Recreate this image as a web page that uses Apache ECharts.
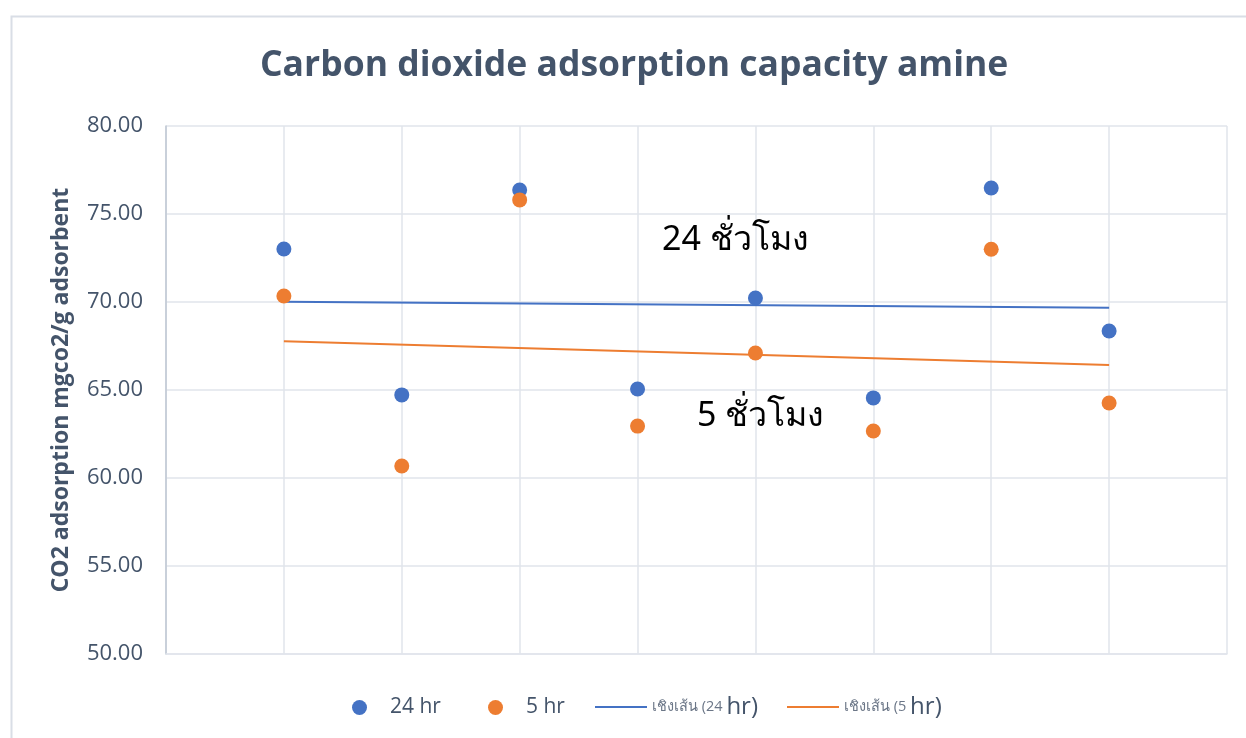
<!DOCTYPE html>
<html>
<head>
<meta charset="utf-8">
<script src="https://cdn.jsdelivr.net/npm/echarts@6/dist/echarts.min.js"></script>
<style>html,body{margin:0;padding:0;background:#fff}#c{width:1246px;height:738px}</style>
</head>
<body>
<div id="c"></div>
<script>
const xPositions = [1, 2, 3, 4, 5, 6, 7, 8];
const values24hr = [73.01, 64.72, 76.36, 65.06, 70.23, 64.55, 76.48, 68.35];
const values5hr = [70.34, 60.68, 75.80, 62.95, 67.10, 62.67, 73.00, 64.26];
const seriesNames = ['24 hr', '5 hr', 'เชิงเส้น (24 hr)', 'เชิงเส้น (5 hr)'];
const titleText = 'Carbon dioxide adsorption capacity amine';
const yAxisTitle = 'CO2 adsorption mgco2/g adsorbent';
const annotations = ['24 ชั่วโมง', '5 ชั่วโมง'];

function linearTrend(xs, ys) {
  const n = xs.length;
  const mx = xs.reduce((a, b) => a + b, 0) / n;
  const my = ys.reduce((a, b) => a + b, 0) / n;
  let sxy = 0, sxx = 0;
  for (let i = 0; i < n; i++) { sxy += (xs[i] - mx) * (ys[i] - my); sxx += (xs[i] - mx) ** 2; }
  const b = sxy / sxx, a = my - b * mx;
  const x0 = xs[0], x1 = xs[n - 1];
  return [[x0, a + b * x0], [x1, a + b * x1]];
}

const BLUE = '#4472C4', ORANGE = '#ED7D31', SLATE = '#44546A', GRID = '#E1E5EB';
const FONT = '"Open Sans", "Noto Sans", sans-serif';

const dotLegend = (name, left) => ({
  data: [name], left: left, top: 692, icon: 'circle',
  itemWidth: 15, itemHeight: 15,
  textStyle: { fontFamily: FONT, fontSize: 21, color: SLATE, padding: [0, 0, 0, 18] }
});
const lineLegend = (name, left) => ({
  data: [name], left: left, top: 690, icon: 'rect',
  itemWidth: 52, itemHeight: 2,
  formatter: n => { const m = n.match(/^(.*?)(hr\))$/); return '{s|' + m[1] + '}{b|' + m[2] + '}'; },
  textStyle: {
    fontFamily: FONT, color: SLATE, padding: [0, 0, 0, 0],
    rich: { s: { fontSize: 14.5, color: '#6B7687', fontFamily: FONT }, b: { fontSize: 24, color: SLATE, fontFamily: FONT } }
  }
});

const chart = echarts.init(document.getElementById('c'));
chart.setOption({
  animation: false,
  backgroundColor: '#fff',
  title: {
    text: titleText, left: 255, top: 43,
    textStyle: { fontFamily: FONT, fontSize: 35.5, fontWeight: 'bold', color: SLATE }
  },
  grid: { left: 166, right: 19, top: 126, bottom: 84 },
  xAxis: {
    type: 'value', min: 0, max: 9, interval: 1,
    axisLabel: { show: false }, axisTick: { show: false },
    axisLine: { show: true, lineStyle: { color: GRID, width: 1.5 } },
    splitLine: { show: true, lineStyle: { color: GRID, width: 1.5 } }
  },
  yAxis: {
    type: 'value', min: 50, max: 80, interval: 5,
    name: yAxisTitle, nameLocation: 'middle', nameRotate: 90, nameGap: 93,
    nameTextStyle: { fontFamily: FONT, fontSize: 23, fontWeight: 'bold', color: SLATE },
    axisLabel: { formatter: v => v.toFixed(2), fontFamily: FONT, fontSize: 22, color: SLATE, margin: 23 },
    axisTick: { show: false },
    axisLine: { show: true, lineStyle: { color: '#BFC7D3', width: 1.5 } },
    splitLine: { show: true, lineStyle: { color: GRID, width: 1.5 } }
  },
  legend: [
    dotLegend(seriesNames[0], 347),
    dotLegend(seriesNames[1], 483),
    lineLegend(seriesNames[2], 590),
    lineLegend(seriesNames[3], 782)
  ],
  graphic: [
    { type: 'rect', left: 9, top: 14, shape: { width: 1260, height: 760 }, style: { fill: 'none', stroke: '#D9DEE6', lineWidth: 2 }, silent: true, z: -1 },
    { type: 'text', left: 662, top: 223, style: { text: annotations[0], font: '34px "Noto Sans", "DejaVu Sans", sans-serif', fill: '#000' }, z: 10 },
    { type: 'text', left: 697, top: 399, style: { text: annotations[1], font: '34px "Noto Sans", "DejaVu Sans", sans-serif', fill: '#000' }, z: 10 }
  ],
  series: [
    { name: seriesNames[0], type: 'scatter', symbolSize: 15, itemStyle: { color: BLUE, opacity: 1 }, z: 5,
      data: xPositions.map((x, i) => [x, values24hr[i]]) },
    { name: seriesNames[1], type: 'scatter', symbolSize: 15, itemStyle: { color: ORANGE, opacity: 1 }, z: 5,
      data: xPositions.map((x, i) => [x, values5hr[i]]) },
    { name: seriesNames[2], type: 'line', symbol: 'none', color: BLUE, lineStyle: { color: BLUE, width: 2 }, z: 3,
      data: linearTrend(xPositions, values24hr) },
    { name: seriesNames[3], type: 'line', symbol: 'none', color: ORANGE, lineStyle: { color: ORANGE, width: 2 }, z: 3,
      data: linearTrend(xPositions, values5hr) }
  ]
});
</script>
</body>
</html>
